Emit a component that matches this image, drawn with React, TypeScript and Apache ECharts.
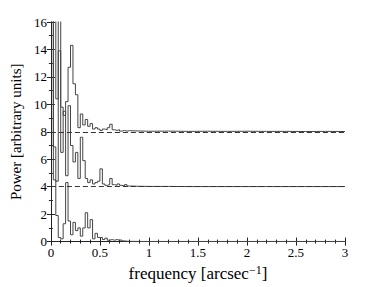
import React, { useEffect, useRef } from "react";
import * as echarts from "echarts";

// frequency bins [arcsec^-1]
const freq = [
  0, 0.025, 0.05, 0.075, 0.1, 0.125, 0.15, 0.175, 0.2, 0.225, 0.25, 0.275, 0.3, 0.325, 0.35, 0.375,
  0.4, 0.425, 0.45, 0.475, 0.5, 0.525, 0.55, 0.575, 0.6, 0.625, 0.65, 0.675, 0.7, 0.725, 0.75, 0.775,
  0.8, 0.9, 1.0, 1.2, 1.4, 1.6, 1.8, 2.0, 2.2, 2.4, 2.6, 2.8, 3.0,
];

// power spectra (without vertical offset)
const powerBottom = [
  40, 4.5, 1.9, 0.3, 0.2, 1.3, 4.3, 1.5, 0.5, 1.4, 0.8, 1.0, 0.4, 1.0, 2.1, 1.0,
  1.6, 0.2, 0.6, 0.3, 0.3, 0.15, 0.25, 0.1, 0.15, 0.1, 0.15, 0.1, 0.12, 0.05, 0.03, 0.02,
  0.01, 0.01, 0.01, 0.01, 0.01, 0.01, 0.01, 0.01, 0.01, 0.01, 0.01, 0.01, 0.01,
];
const powerMiddle = [
  40, 2.9, 0.4, 9.9, 2.5, 5.5, 0.8, 5.9, 3.0, 1.8, 2.5, 0.6, 3.6, 1.9, 0.6, 0.3,
  0.5, 0.2, 0.3, 0.4, 1.3, 0.2, 0.1, 0.15, 0.6, 0.15, 0.1, 0.2, 0.1, 0.05, 0.15, 0.05,
  0.03, 0.02, 0.02, 0.01, 0.01, 0.01, 0.01, 0.01, 0.01, 0.01, 0.01, 0.01, 0.01,
];
const powerTop = [
  40, 25, 2.4, 9.5, 1.8, 1.2, 2.2, 4.7, 6.3, 3.5, 2.7, 0.3, 1.3, 0.5, 0.9, 0.4,
  0.6, 0.2, 0.3, 0.2, 0.1, 0.2, 0.15, 0.3, 0.55, 0.15, 0.1, 0.15, 0.05, 0.1, 0.05, 0.08,
  0.06, 0.04, 0.05, 0.03, 0.04, 0.03, 0.04, 0.03, 0.03, 0.02, 0.03, 0.02, 0.02,
];
const offsets = [0, 4, 8];
const xTicks = ["0", "0.5", "1", "1.5", "2", "2.5", "3"];

const FONT = "Liberation Serif, Times New Roman, serif";
const LINE = "#454545";

export default function App() {
  const ref = useRef<HTMLDivElement>(null);
  useEffect(() => {
    if (!ref.current) return;
    const chart = echarts.init(ref.current, null, { renderer: "svg" });
    const spectra = [powerBottom, powerMiddle, powerTop];
    const series: any[] = spectra.map((p, k) => ({
      type: "line",
      step: "end",
      showSymbol: false,
      symbol: "none",
      clip: true,
      xAxisIndex: 0,
      yAxisIndex: 0,
      lineStyle: { color: LINE, width: 1 },
      data: freq.map((f, i) => [f, p[i] + offsets[k]]),
      z: 3,
    }));
    series.push({
      type: "line",
      data: [],
      xAxisIndex: 0,
      yAxisIndex: 0,
      markLine: {
        silent: true,
        symbol: ["none", "none"],
        label: { show: false },
        lineStyle: { color: "#333", width: 1, type: [5, 3] },
        data: offsets.slice(1).map((o) => ({ yAxis: o })),
      },
      z: 2,
    });
    const tickCommon = {
      axisLine: { show: true, lineStyle: { color: "#222", width: 1 } },
      axisTick: { show: true, inside: true, length: 4, lineStyle: { color: "#222" } },
      minorTick: { show: true, length: 2, lineStyle: { color: "#222" } },
      splitLine: { show: false },
    };
    chart.setOption({
      animation: false,
      backgroundColor: "#fff",
      grid: { left: 49, right: 37, top: 22, bottom: 41, containLabel: false },
      xAxis: [
        {
          type: "value",
          min: 0,
          max: 3,
          interval: 0.5,
          position: "bottom",
          ...tickCommon,
          minorTick: { ...tickCommon.minorTick, splitNumber: 5 },
          axisLabel: {
            color: "#000",
            fontFamily: FONT,
            fontSize: 13,
            margin: 4,
            formatter: (v: number) => xTicks[Math.round(v / 0.5)] ?? String(v),
          },
          name: "frequency [arcsec{sup|−1}]",
          nameLocation: "middle",
          nameGap: 20,
          nameTextStyle: {
            color: "#000",
            fontFamily: FONT,
            fontSize: 17,
            rich: {
              sup: { fontFamily: FONT, fontSize: 12, color: "#000", verticalAlign: "top", padding: [0, 0, 8, 0] },
            },
          },
        },
        {
          type: "value",
          min: 0,
          max: 3,
          interval: 0.5,
          position: "top",
          ...tickCommon,
          minorTick: { ...tickCommon.minorTick, splitNumber: 5 },
          axisLabel: { show: false },
        },
      ],
      yAxis: [
        {
          type: "value",
          min: 0,
          max: 16,
          interval: 2,
          position: "left",
          ...tickCommon,
          minorTick: { ...tickCommon.minorTick, splitNumber: 2 },
          axisLabel: { color: "#000", fontFamily: FONT, fontSize: 13, margin: 4 },
          name: "Power [arbitrary units]",
          nameLocation: "middle",
          nameGap: 26,
          nameTextStyle: { color: "#000", fontFamily: FONT, fontSize: 15 },
        },
        {
          type: "value",
          min: 0,
          max: 16,
          interval: 2,
          position: "right",
          ...tickCommon,
          minorTick: { ...tickCommon.minorTick, splitNumber: 2 },
          axisLabel: { show: false },
        },
      ],
      series,
    });
    return () => chart.dispose();
  }, []);
  return (
    <div
      ref={ref}
      style={{ position: "fixed", left: 0, top: 0, width: 382, height: 287 }}
    />
  );
}
